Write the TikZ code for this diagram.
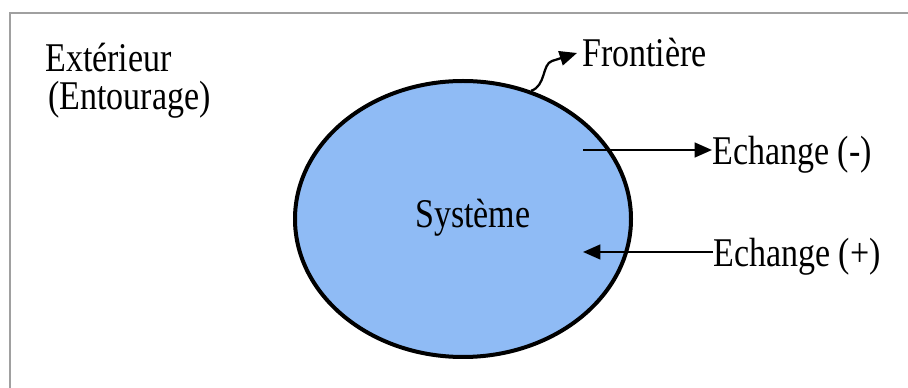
\documentclass[tikz,border=0pt]{standalone}
\usepackage{fontspec}
\setmainfont{Liberation Serif}
\usetikzlibrary{arrows.meta,shapes.geometric,positioning}
\definecolor{sysblue}{RGB}{143,187,245}
\definecolor{framegray}{RGB}{160,160,160}
\newcommand{\tallword}[1]{\scalebox{1}[1.2]{#1}}
\tikzset{
  lbl/.style={inner sep=0pt, anchor=base west, font=\fontsize{25.5}{30}\selectfont},
  flow/.style={line width=1.7pt, -{Triangle[length=13pt,width=11pt]}},
}

\begin{document}
\begin{tikzpicture}[x=0.75pt,y=0.75pt,yscale=-1,xscale=1]
\useasboundingbox (0,0) rectangle (908,388);

%Straight Lines (frame)
\draw [color=framegray, line width=1.1pt] (10,388) -- (10,13) -- (908,13) ;

%Shape: Ellipse
\node (sys) [ellipse, draw, line width=3pt, fill=sysblue, minimum width=252pt, minimum height=207pt, inner sep=0pt] at (463,219) {};

% Text Node
\node (sysname) [lbl] at (415,228) {\tallword{Système}};
% Text Node
\node (ext) [lbl] at (45,72) {\tallword{Extérieur}};
% Text Node
\node (ent) [lbl] at (48,110) {\tallword{(Entourage)}};
% Text Node
\node (fr) [lbl] at (582,67) {\tallword{Frontière}};
% Text Node
\node (em) [lbl] at (712,165) {\tallword{Echange (-)}};
% Text Node
\node (ep) [lbl] at (713,267) {\tallword{Echange (+)}};

\coordinate (mout) at (583,150);
\coordinate (pin) at (583,252);
\coordinate (frtip) at (577,53);

%Straight Lines
\draw [flow] (mout) -- (mout -| em.west) ;
%Straight Lines
\draw [flow] (pin -| ep.west) -- (pin) ;
%Curve Lines
\draw [flow] (sys.62) .. controls (546,86) and (542,64) .. (552,61) -- (frtip) ;

\end{tikzpicture}
\end{document}
